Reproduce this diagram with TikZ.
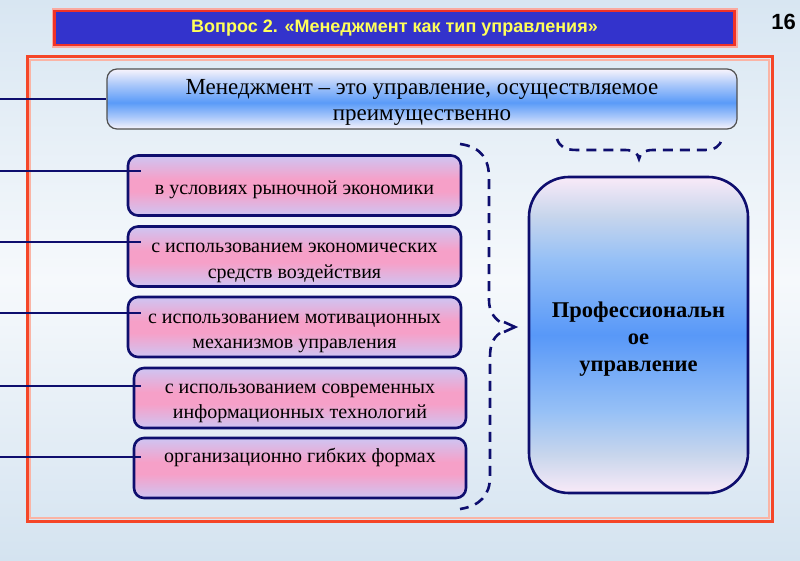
\documentclass[tikz,border=0pt]{standalone}
\usepackage{fontspec}
\setmainfont{Liberation Serif}
\newfontfamily\sansf{Liberation Sans}
\usetikzlibrary{calc}
\definecolor{bgtop}{RGB}{216,230,242}
\definecolor{bgmid}{RGB}{246,249,252}
\definecolor{bgbot}{RGB}{212,227,240}
\definecolor{navy}{RGB}{14,14,110}
\definecolor{titleblue}{RGB}{51,51,204}
\definecolor{titlered}{RGB}{240,50,40}
\definecolor{glow}{RGB}{250,170,160}
\definecolor{frred}{RGB}{245,70,40}
\definecolor{frpink}{RGB}{250,180,165}
\definecolor{yel}{RGB}{255,255,90}
\definecolor{pkl}{RGB}{206,197,243}
\definecolor{pkm}{RGB}{246,160,200}
\definecolor{tbw}{RGB}{248,244,252}
\definecolor{tbh}{RGB}{170,200,250}
\definecolor{tbb}{RGB}{90,155,248}
\definecolor{bpk}{RGB}{249,234,248}
\definecolor{bgr}{RGB}{200,214,236}
\definecolor{blt}{RGB}{150,192,246}
\definecolor{bmid}{RGB}{88,152,248}
\definecolor{boxgray}{RGB}{80,80,80}
\pgfdeclareverticalshading{topsh}{100bp}{color(0bp)=(tbw); color(25bp)=(tbw); color(35bp)=(tbh); color(47bp)=(tbb); color(62bp)=(tbh); color(75bp)=(tbw); color(100bp)=(tbw)}
\pgfdeclareverticalshading{pinksh}{100bp}{color(0bp)=(pkl); color(25bp)=(pkl); color(45bp)=(pkm); color(55bp)=(pkm); color(75bp)=(pkl); color(100bp)=(pkl)}
\pgfdeclareverticalshading{bigsh}{100bp}{color(0bp)=(bpk); color(25bp)=(bpk); color(31bp)=(bgr); color(38bp)=(blt); color(50bp)=(bmid); color(62bp)=(blt); color(69bp)=(bgr); color(75bp)=(bpk); color(100bp)=(bpk)}
\pgfdeclareverticalshading{bgsh}{100bp}{color(0bp)=(bgbot); color(25bp)=(bgbot); color(50bp)=(bgmid); color(75bp)=(bgtop); color(100bp)=(bgtop)}
\newcommand{\lowr}[2][4pt]{\raisebox{-#1}[\height][\depth]{\begin{tabular}{@{}c@{}}#2\end{tabular}}}
\tikzset{
  pinkbox/.style={draw=navy, line width=2.6, rounded corners=10, shade, shading=pinksh,
    minimum width=333, minimum height=60, inner sep=0, align=center,
    font=\fontsize{20}{25}\selectfont},
  conn/.style={draw=navy, line width=2.6},
  brace/.style={draw=navy, line width=2.6, dash pattern=on 10pt off 7pt}
}
\begin{document}
\begin{tikzpicture}[x=1pt,y=-1pt]
\useasboundingbox (0,0) rectangle (800,561);
\shade[shading=bgsh] (0,0) rectangle (800,561);
% title
\node[draw=glow, line width=6, minimum width=680, minimum height=34, inner sep=0] (tglow) at (394.5,28) {};
\node[draw=titlered, line width=2.5, fill=titleblue, minimum width=680, minimum height=34, inner sep=0,
  text=yel, font=\sansf\bfseries\fontsize{18}{20}\selectfont] (title) at (394.5,28) {Вопрос 2. «Менеджмент как тип управления»};
\node[font=\sansf\bfseries\fontsize{22}{24}\selectfont, inner sep=0] (num) at (783.5,22) {16};
% frame
\draw[frpink, line width=1.5] (30,60) rectangle (769,518);
\draw[frred, line width=3] (27,57) rectangle (772,521);
% top box
\node[draw=boxgray, line width=1.2, rounded corners=10, shade, shading=topsh,
  minimum width=630, minimum height=60, inner sep=0, align=center,
  font=\fontsize{23}{26}\selectfont] (top) at (422,99)
  {\lowr[3pt]{Менеджмент – это управление, осуществляемое\\преимущественно}};
% pink boxes
\node[pinkbox] (b1) at (294.5,185.5) {\lowr{в условиях рыночной экономики}};
\node[pinkbox] (b2) at (294.5,256.5) {\lowr{с использованием экономических\\средств воздействия}};
\node[pinkbox] (b3) at (294.5,327) {\lowr{с использованием мотивационных\\механизмов управления}};
\node[pinkbox, minimum width=332] (b4) at (300,398) {\lowr[3pt]{с использованием современных\\информационных технологий}};
\node[pinkbox, minimum width=332] (b5) at (300,468) {\lowr[2pt]{организационно гибких формах\\\mbox{}}};
% big box
\node[draw=navy, line width=2.6, rounded corners=40, shade, shading=bigsh,
  minimum width=219, minimum height=316, inner sep=0, align=center,
  font=\bfseries\fontsize{22.5}{27}\selectfont] (big) at (638.5,335)
  {\lowr{Профессиональн\\ое\\управление}};
% connectors
\coordinate (s0) at (0,99);
\coordinate (s1) at (0,171);
\coordinate (s2) at (0,242);
\coordinate (s3) at (0,313);
\coordinate (s4) at (0,386);
\coordinate (s5) at (0,457);
\draw[conn] (s0) -- (top.west);
\draw[conn] (s1) -- ($(s1 -| b1.west)+(14,0)$);
\draw[conn] (s2) -- ($(s2 -| b2.west)+(14,0)$);
\draw[conn] (s3) -- ($(s3 -| b3.west)+(14,0)$);
\draw[conn] (s4) -- ($(s4 -| b4.west)+(8,0)$);
\draw[conn] (s5) -- ($(s5 -| b5.west)+(8,0)$);
% right brace
\draw[brace] (460,144) .. controls (482,147) and (489,160) .. (489,178) -- (489,300)
  .. controls (489,310) and (493,317) .. (500,322);
\draw[brace] (500,333) .. controls (493,338) and (490,345) .. (490,357) -- (490,477)
  .. controls (490,495) and (480,506) .. (460,509);
\draw[navy, line width=2.6] (504,322) -- (515,327) -- (504,332);
% top brace
\draw[brace] (557,139) .. controls (560,147) and (565,150) .. (577,150) -- (625,150)
  .. controls (633,150) and (638,153) .. (639,159)
  .. controls (640,153) and (645,150) .. (653,150) -- (705,150)
  .. controls (715,150) and (720,146) .. (722,139);
\end{tikzpicture}
\end{document}
